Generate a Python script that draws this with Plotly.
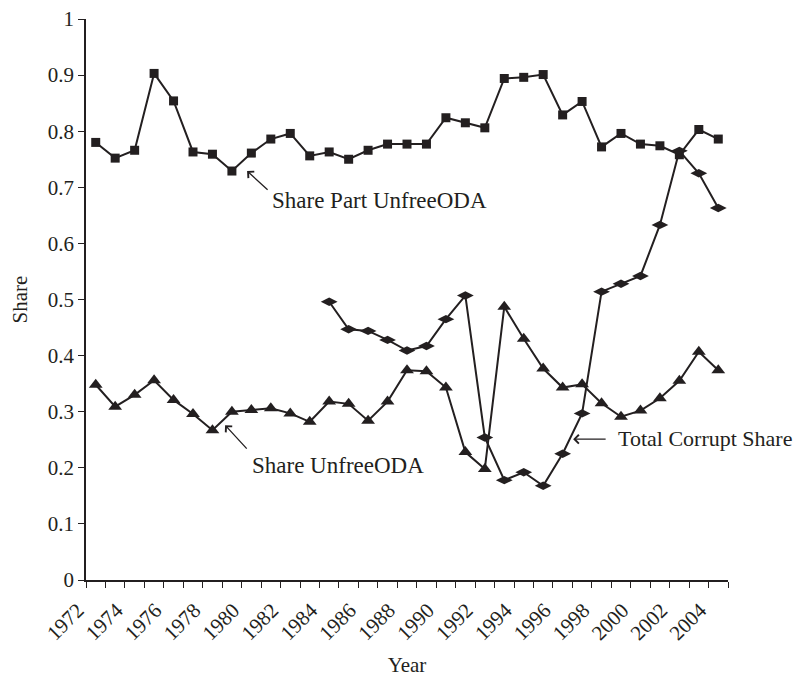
import plotly.graph_objects as go

years = list(range(1972, 2005))

share_part_unfree_oda = [
    0.780, 0.752, 0.766, 0.903, 0.854, 0.763, 0.759, 0.729, 0.761, 0.786,
    0.796, 0.756, 0.763, 0.750, 0.766, 0.777, 0.777, 0.777, 0.824, 0.815,
    0.806, 0.894, 0.896, 0.901, 0.829, 0.853, 0.772, 0.796, 0.777, 0.774,
    0.758, 0.803, 0.786,
]

share_unfree_oda = [
    0.348, 0.309, 0.330, 0.356, 0.321, 0.296, 0.267, 0.300, 0.303, 0.306,
    0.297, 0.282, 0.318, 0.314, 0.284, 0.318, 0.374, 0.372, 0.343, 0.228,
    0.198, 0.487, 0.430, 0.377, 0.343, 0.349, 0.315, 0.291, 0.302, 0.324,
    0.355, 0.407, 0.374,
]

total_corrupt_years = list(range(1984, 2005))
total_corrupt_share = [
    0.496, 0.447, 0.444, 0.428, 0.409, 0.417, 0.465, 0.507, 0.254, 0.178,
    0.192, 0.168, 0.225, 0.297, 0.514, 0.528, 0.542, 0.633, 0.765, 0.725,
    0.663,
]

tick_years = list(range(1972, 2005, 2))
tick_text = [str(y) for y in tick_years]
y_ticks = [0, 0.1, 0.2, 0.3, 0.4, 0.5, 0.6, 0.7, 0.8, 0.9, 1]
y_text = ["0", "0.1", "0.2", "0.3", "0.4", "0.5", "0.6", "0.7", "0.8", "0.9", "1"]

INK = "#231f20"
FONT = "Liberation Serif"

fig = go.Figure()
fig.add_trace(go.Scatter(
    x=years, y=share_part_unfree_oda, mode="lines+markers",
    name="Share Part UnfreeODA",
    line=dict(color=INK, width=2),
    marker=dict(symbol="square", size=9, color=INK),
))
fig.add_trace(go.Scatter(
    x=years, y=share_unfree_oda, mode="lines+markers",
    name="Share UnfreeODA",
    line=dict(color=INK, width=2),
    marker=dict(symbol="triangle-up", size=12, color=INK),
))
fig.add_trace(go.Scatter(
    x=total_corrupt_years, y=total_corrupt_share, mode="lines+markers",
    name="Total Corrupt Share",
    line=dict(color=INK, width=2),
    marker=dict(symbol="diamond-wide", size=12, color=INK),
))

ann_font = dict(family=FONT, size=23, color=INK)
ann_font_small = dict(family=FONT, size=22, color=INK)
arrow_common = dict(showarrow=True, arrowhead=4, arrowsize=1.3, arrowwidth=1.3,
                    arrowcolor=INK, xref="x", yref="y", axref="pixel", ayref="pixel")

annotations = [
    # arrows
    dict(x=1979.78, y=0.729, ax=22, ay=20, text="", **arrow_common),
    dict(x=1978.65, y=0.276, ax=23, ay=25, text="", **arrow_common),
    dict(x=1996.54, y=0.251, ax=34, ay=0, text="", **arrow_common),
    # labels
    dict(x=1980.96, y=0.677, text="Share Part UnfreeODA", showarrow=False,
         xanchor="left", yanchor="middle", font=ann_font, xref="x", yref="y"),
    dict(x=1979.93, y=0.205, text="Share UnfreeODA", showarrow=False,
         xanchor="left", yanchor="middle", font=ann_font, xref="x", yref="y"),
    dict(x=1998.75, y=0.253, text="Total Corrupt Share", showarrow=False,
         xanchor="left", yanchor="middle", font=ann_font_small, xref="x", yref="y"),
]

fig.update_layout(
    width=797, height=669,
    margin=dict(l=78, r=77, t=11, b=97),
    paper_bgcolor="white", plot_bgcolor="white",
    showlegend=False,
    font=dict(family=FONT, size=20, color=INK),
    annotations=annotations,
    xaxis=dict(
        range=[1971.5, 2004.5], automargin=False,
        tickmode="array", tickvals=tick_years, ticktext=tick_text,
        tickangle=-45, ticks="", showgrid=False, zeroline=False,
        showline=True, linecolor=INK, linewidth=1.5,
        tickfont=dict(family=FONT, size=21, color=INK),
        ticklabelshift=-18, ticklabelstandoff=8, ticklabeloverflow="allow",
        minor=dict(tickmode="linear", tick0=1971.5, dtick=1, ticks="outside",
                   ticklen=6, tickwidth=1.3, tickcolor=INK, showgrid=False),
        title=dict(text="Year", font=dict(family=FONT, size=21, color=INK), standoff=23),
    ),
    yaxis=dict(
        range=[0, 1], automargin=False,
        tickmode="array", tickvals=y_ticks, ticktext=y_text,
        ticks="outside", ticklen=6, tickwidth=1.3, tickcolor=INK,
        showgrid=False, zeroline=False, ticklabeloverflow="allow",
        showline=True, linecolor=INK, linewidth=1.5,
        tickfont=dict(family=FONT, size=21, color=INK),
        title=dict(text="Share", font=dict(family=FONT, size=21, color=INK), standoff=30),
    ),
)

fig.write_html("out.html")
